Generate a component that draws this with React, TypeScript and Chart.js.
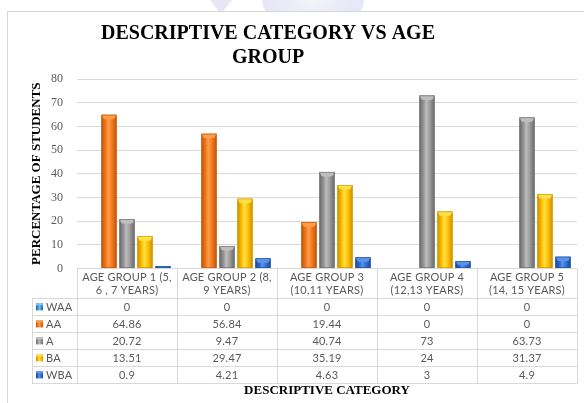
import React, { useEffect, useRef } from "react";
import { Chart, registerables } from "chart.js";

Chart.register(...registerables);

// Category headers (two lines each, as shown in the table header row)
const groupLabels: string[][] = [
  ["AGE GROUP 1 (5,", "6 , 7 YEARS)"],
  ["AGE GROUP 2 (8,", "9 YEARS)"],
  ["AGE GROUP 3", "(10,11 YEARS)"],
  ["AGE GROUP 4", "(12,13 YEARS)"],
  ["AGE GROUP 5", "(14, 15 YEARS)"],
];

const seriesNames = ["WAA", "AA", "A", "BA", "WBA"];

const waa = [0, 0, 0, 0, 0];
const aa = [64.86, 56.84, 19.44, 0, 0];
const a = [20.72, 9.47, 40.74, 73, 63.73];
const ba = [13.51, 29.47, 35.19, 24, 31.37];
const wba = [0.9, 4.21, 4.63, 3, 4.9];

const yTicks = [0, 10, 20, 30, 40, 50, 60, 70, 80];

const titleLines = ["DESCRIPTIVE CATEGORY VS AGE", "GROUP"];

// base / dark edge / highlight per series
const palette = [
  { base: "#3C98DE", dark: "#1E6CB0", light: "#7CC0F0" },
  { base: "#F37A1F", dark: "#C0540A", light: "#FF9E4A" },
  { base: "#9A9A9A", dark: "#6A6A6A", light: "#BEBEBE" },
  { base: "#FFC000", dark: "#CC9200", light: "#FFE04A" },
  { base: "#2F6FD0", dark: "#1C4B9A", light: "#5C93E6" },
];

const tableFont = "11px Lato, 'Open Sans', sans-serif";
const tableText = "#595959";
const lineColor = "#D9D9D9";

function shadeRect(
  ctx: CanvasRenderingContext2D,
  left: number,
  top: number,
  w: number,
  h: number,
  c: { base: string; dark: string; light: string }
) {
  const g = ctx.createLinearGradient(left, 0, left + w, 0);
  g.addColorStop(0, c.dark);
  g.addColorStop(0.3, c.base);
  g.addColorStop(0.45, c.light);
  g.addColorStop(0.7, c.base);
  g.addColorStop(1, c.dark);
  ctx.fillStyle = g;
  ctx.fillRect(left, top, w, h);
}

const titlePlugin = {
  id: "topTitle",
  afterDraw(chart: any) {
    const ctx = chart.ctx as CanvasRenderingContext2D;
    ctx.save();
    ctx.font = "bold 20px 'Liberation Serif', 'Times New Roman', serif";
    ctx.fillStyle = "#000";
    ctx.textAlign = "center";
    ctx.textBaseline = "middle";
    titleLines.forEach((t, i) => ctx.fillText(t, 268, 34 + i * 24));
    ctx.restore();
  },
};

const bevelPlugin = {
  id: "barBevel",
  afterDatasetsDraw(chart: any) {
    const ctx = chart.ctx as CanvasRenderingContext2D;
    ctx.save();
    chart.data.datasets.forEach((_: any, di: number) => {
      const meta = chart.getDatasetMeta(di);
      const c = palette[di];
      meta.data.forEach((el: any) => {
        const top = Math.min(el.y, el.base);
        const h = Math.abs(el.base - el.y);
        if (h < 0.5) return;
        const left = el.x - el.width / 2;
        const w = el.width;
        shadeRect(ctx, left, top, w, h, c);
        // lighter bevelled cap
        const cap = Math.min(4, h / 2);
        ctx.fillStyle = c.light;
        ctx.beginPath();
        ctx.moveTo(left, top);
        ctx.lineTo(left + w, top);
        ctx.lineTo(left + w - 2, top + cap);
        ctx.lineTo(left + w / 2, top + cap + 1);
        ctx.lineTo(left + 2, top + cap);
        ctx.closePath();
        ctx.fill();
        ctx.strokeStyle = c.dark;
        ctx.lineWidth = 0.6;
        ctx.strokeRect(left + 0.3, top + 0.3, w - 0.6, h - 0.6);
      });
    });
    ctx.restore();
  },
};

const tablePlugin = {
  id: "dataTable",
  afterDraw(chart: any) {
    const ctx = chart.ctx as CanvasRenderingContext2D;
    const xs = chart.scales.x;
    const area = chart.chartArea;
    const n = groupLabels.length;
    const colW = (xs.right - xs.left) / n;
    const top = area.bottom;
    const headerH = 30;
    const rowH = 17;
    const legendLeft = 32;
    const rowsTop = top + headerH;
    const bottom = rowsTop + rowH * seriesNames.length;
    const series = [waa, aa, a, ba, wba];

    ctx.save();
    ctx.strokeStyle = lineColor;
    ctx.lineWidth = 1;
    ctx.beginPath();
    // header top (axis line)
    ctx.moveTo(xs.left, Math.round(top) + 0.5);
    ctx.lineTo(xs.right, Math.round(top) + 0.5);
    // row lines
    for (let r = 0; r <= seriesNames.length; r++) {
      const y = Math.round(rowsTop + r * rowH) + 0.5;
      ctx.moveTo(legendLeft, y);
      ctx.lineTo(xs.right, y);
    }
    // column lines
    for (let c = 0; c <= n; c++) {
      const x = Math.round(xs.left + c * colW) + 0.5;
      ctx.moveTo(x, top);
      ctx.lineTo(x, bottom);
    }
    ctx.moveTo(legendLeft + 0.5, rowsTop);
    ctx.lineTo(legendLeft + 0.5, bottom);
    ctx.stroke();

    ctx.font = tableFont;
    (ctx as any).letterSpacing = "0.2px";
    ctx.fillStyle = tableText;
    ctx.textAlign = "center";
    ctx.textBaseline = "middle";
    // header
    groupLabels.forEach((lines, i) => {
      const cx = xs.getPixelForValue(i);
      lines.forEach((t, li) => ctx.fillText(t, cx, top + 9 + li * 13));
    });
    // values
    series.forEach((vals, r) => {
      const cy = rowsTop + r * rowH + rowH / 2 + 0.5;
      vals.forEach((v, i) => {
        ctx.fillText(String(v), xs.getPixelForValue(i), cy);
      });
    });
    // legend keys
    ctx.textAlign = "left";
    seriesNames.forEach((name, r) => {
      const cy = rowsTop + r * rowH + rowH / 2;
      shadeRect(ctx, legendLeft + 4, cy - 3.5, 7, 7, palette[r]);
      ctx.fillStyle = palette[r].light;
      ctx.fillRect(legendLeft + 4, cy - 3.5, 7, 2);
      ctx.fillStyle = tableText;
      ctx.fillText(name, legendLeft + 14, cy + 0.5);
    });
    ctx.restore();
  },
};

export default function App() {
  const canvasRef = useRef<HTMLCanvasElement | null>(null);

  useEffect(() => {
    if (!canvasRef.current) return;
    const allSeries = [waa, aa, a, ba, wba];
    const chart = new Chart(canvasRef.current, {
      type: "bar",
      data: {
        labels: groupLabels.map((l) => l.join(" ")),
        datasets: allSeries.map((vals, i) => ({
          label: seriesNames[i],
          data: vals,
          backgroundColor: palette[i].base,
          borderWidth: 0,
          categoryPercentage: 0.9,
          barPercentage: 0.83,
        })),
      },
      options: {
        responsive: false,
        animation: false,
        layout: { padding: { left: 8, right: 7, top: 79, bottom: 0 } },
        plugins: {
          legend: { display: false },
          title: { display: false },
          tooltip: { enabled: false },
        },
        scales: {
          x: {
            grid: { display: false },
            border: { display: false },
            ticks: { display: false },
            title: {
              display: true,
              text: "DESCRIPTIVE CATEGORY",
              color: "#000",
              font: { family: "'Liberation Serif', 'Times New Roman', serif", size: 13, weight: "bold" },
              padding: { top: 106, bottom: 5 },
            },
          },
          y: {
            min: 0,
            max: 80,
            afterBuildTicks: (s: any) => {
              s.ticks = yTicks.map((v) => ({ value: v }));
            },
            afterFit: (s: any) => {
              s.width = 69;
            },
            grid: { color: lineColor, drawTicks: false },
            border: { display: false },
            ticks: {
              padding: 14,
              color: "#595959",
              font: { family: "'Liberation Serif', 'Times New Roman', serif", size: 12 },
            },
            title: {
              display: true,
              text: "PERCENTAGE OF STUDENTS",
              color: "#000",
              font: { family: "'Liberation Serif', 'Times New Roman', serif", size: 13, weight: "bold" },
              padding: { top: 21, bottom: 0 },
            },
          },
        },
      },
      plugins: [bevelPlugin, tablePlugin, titlePlugin],
    });
    return () => chart.destroy();
  }, []);

  return (
    <div style={{ position: "fixed", left: 0, top: 0, width: 584, height: 403, overflow: "hidden", background: "#fff" }}>
      <div
        style={{
          position: "absolute",
          left: 210,
          top: 0,
          width: 22,
          height: 11,
          background: "#DCDCF0",
          clipPath: "polygon(0 0, 100% 0, 60% 100%, 40% 100%)",
          opacity: 0.7,
        }}
      />
      <div
        style={{
          position: "absolute",
          left: 262,
          top: -30,
          width: 102,
          height: 60,
          borderRadius: "50%",
          background: "radial-gradient(ellipse at center, #F0F0FA 0%, #E0E0F2 70%, #E8E8F6 100%)",
          opacity: 0.8,
        }}
      />
      <div
        style={{
          position: "absolute",
          left: 7,
          top: 11,
          width: 620,
          height: 430,
          border: "1px solid #D6D6D6",
          background: "#fff",
        }}
      />
      <canvas ref={canvasRef} width={584} height={403} style={{ position: "absolute", left: 0, top: 0 }} />
    </div>
  );
}
